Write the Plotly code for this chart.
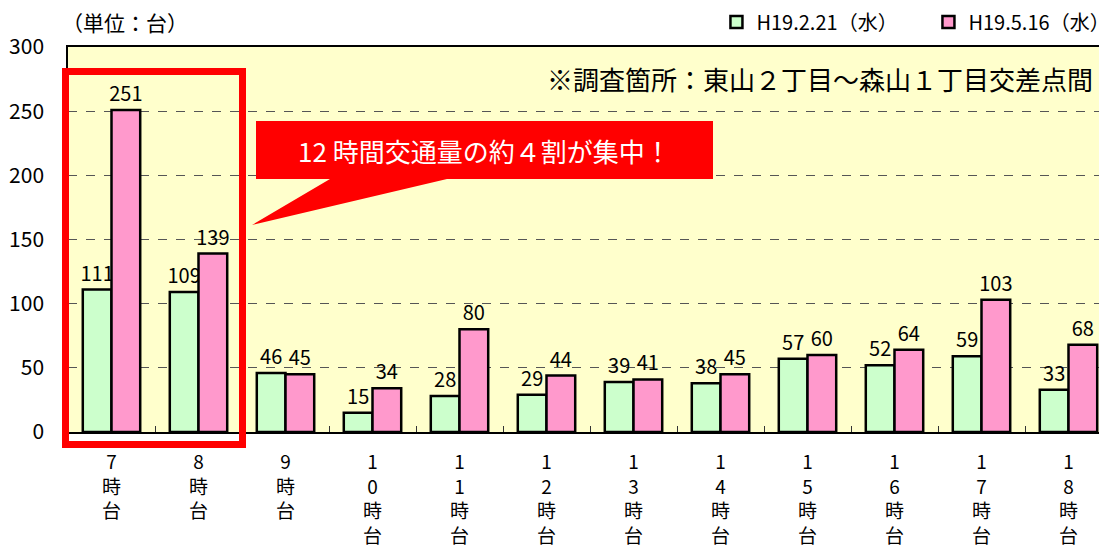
import plotly.graph_objects as go

categories = ["7時台", "8時台", "9時台", "10時台", "11時台", "12時台",
              "13時台", "14時台", "15時台", "16時台", "17時台", "18時台"]
tick_labels = ["7<br>時<br>台", "8<br>時<br>台", "9<br>時<br>台",
               "1<br>0<br>時<br>台", "1<br>1<br>時<br>台", "1<br>2<br>時<br>台",
               "1<br>3<br>時<br>台", "1<br>4<br>時<br>台", "1<br>5<br>時<br>台",
               "1<br>6<br>時<br>台", "1<br>7<br>時<br>台", "1<br>8<br>時<br>台"]
series_a_name = "H19.2.21（水）"
series_a = [111, 109, 46, 15, 28, 29, 39, 38, 57, 52, 59, 33]
series_b_name = "H19.5.16（水）"
series_b = [251, 139, 45, 34, 80, 44, 41, 45, 60, 64, 103, 68]
y_ticks = [0, 50, 100, 150, 200, 250, 300]

FONT = "Noto Sans CJK JP"
W, H = 1099, 548
L, R, T, B = 68, 0, 47, 116
pw, ph = W - L - R, H - T - B

def px(x):
    return (x - L) / pw

def py(y):
    return (H - B - y) / ph

fig = go.Figure()
fig.add_trace(go.Bar(
    x=categories, y=series_a, name=series_a_name,
    marker=dict(color="#CCFFCC", line=dict(color="black", width=2.5)),
    text=series_a, textposition="outside", constraintext="none",
    textfont=dict(size=20, color="black", family=FONT), cliponaxis=False,
))
fig.add_trace(go.Bar(
    x=categories, y=series_b, name=series_b_name,
    marker=dict(color="#FF99CC", line=dict(color="black", width=2.5)),
    text=series_b, textposition="outside", constraintext="none",
    textfont=dict(size=20, color="black", family=FONT), cliponaxis=False,
))

# highlight frame
fig.add_shape(type="rect", xref="paper", yref="paper",
              x0=px(65.5), x1=px(242.5), y0=py(444.5), y1=py(71.5),
              line=dict(color="#FF0000", width=7), fillcolor="rgba(0,0,0,0)", layer="above")

# callout
bx0, bx1, by0, by1 = 256, 713, 121, 179
path = (f"M {px(bx0)},{py(by0)} L {px(bx1)},{py(by0)} L {px(bx1)},{py(by1)} "
        f"L {px(447)},{py(by1)} L {px(252)},{py(225)} L {px(330)},{py(by1)} "
        f"L {px(bx0)},{py(by1)} Z")
fig.add_shape(type="path", xref="paper", yref="paper", path=path,
              fillcolor="#FF0000", line=dict(width=0), layer="above")
fig.add_annotation(xref="paper", yref="paper", x=px((bx0 + bx1) / 2), y=py((by0 + by1) / 2),
                   text="12 時間交通量の約４割が集中！", showarrow=False,
                   font=dict(size=26, color="white", family=FONT),
                   xanchor="center", yanchor="middle")

fig.add_annotation(xref="paper", yref="paper", x=px(1095), y=py(78),
                   text="※調査箇所：東山２丁目～森山１丁目交差点間", showarrow=False,
                   font=dict(size=26, color="black", family=FONT),
                   xanchor="right", yanchor="middle")

fig.add_annotation(xref="paper", yref="paper", x=px(60), y=py(22),
                   text="（単位：台）", showarrow=False,
                   font=dict(size=21, color="black", family=FONT),
                   xanchor="left", yanchor="middle")

fig.update_layout(
    width=W, height=H,
    margin=dict(l=L, r=R, t=T, b=B, autoexpand=False),
    paper_bgcolor="white", plot_bgcolor="#FFFFCC",
    barmode="group", bargap=0.34, bargroupgap=0,
    font=dict(family=FONT, size=18, color="black"),
    legend=dict(orientation="h", x=1.0402, xanchor="right", y=py(22), yanchor="middle",
                font=dict(size=20, family=FONT), bgcolor="rgba(0,0,0,0)",
                itemwidth=30, traceorder="normal", entrywidth=167, entrywidthmode="pixels"),
    xaxis=dict(type="category", range=[-0.5, 11.5 - (L + 12 * 87 - W) / 87],
               tickvals=categories, ticktext=tick_labels, automargin=False,
               tickson="boundaries", ticks="inside", ticklen=6, tickcolor="#333",
               showline=True, linecolor="black", linewidth=2, mirror=True,
               ticklabelstandoff=12,
               tickfont=dict(size=19, family=FONT), showgrid=False),
    yaxis=dict(range=[0, 300], tickvals=y_ticks, showgrid=True, automargin=False,
               gridcolor="#555", griddash="dash", gridwidth=1,
               showline=True, linecolor="black", linewidth=1.5,
               zeroline=False, ticks="", ticklabelstandoff=18,
               tickfont=dict(size=21, family=FONT)),
)

fig.write_html("out.html", config={"displayModeBar": False},
               post_script="document.body.style.margin='0';document.body.style.overflow='hidden';")
